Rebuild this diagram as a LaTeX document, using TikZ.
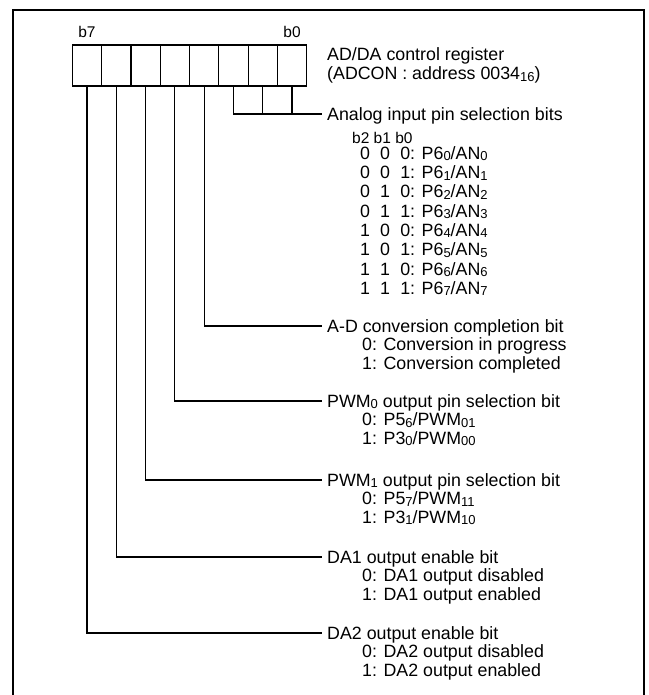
\documentclass[tikz,border=0pt]{standalone}
\usepackage{fontspec}
\setmainfont{Liberation Sans}
\usetikzlibrary{positioning}

% male cyfry indeksu dolnego (P6_0, AN_0, 0034_16)
\newcommand{\dn}[1]{\raisebox{-0.08em}{\fontsize{13}{13}\selectfont #1}}

\begin{document}
\begin{tikzpicture}[x=1pt, y=-1pt, font=\fontsize{17.8}{19}\selectfont,
    bitbox/.style={draw, line width=1.2pt, minimum width=29.3pt, minimum height=41pt, inner sep=0pt},
    lbl/.style={anchor=west, inner xsep=5pt, inner ysep=0pt, text height=12.7pt, text depth=0pt},
    sublbl/.style={anchor=west, inner sep=0pt, text height=12.7pt, text depth=0pt},
    wire/.style={line width=1.2pt}]
        % ============================================================
        % Rejestr ADCON: 8 bitow, b7 po lewej, polaczenia do opisow
        % ============================================================

        % === RAMKA (otwarta od dolu) ===
        \useasboundingbox (0,0) rectangle (648,695);
        \draw[line width=2.4pt] (13,695) -- (13,10) -- (644,10) -- (644,695);

        % === 1. KOMORKI REJESTRU ===
        \foreach \i in {0,...,7} {
            \pgfmathsetmacro{\xs}{86.95 + (7 - \i) * 29.3}
            \node[bitbox] (bit\i) at (\xs, 65.5) {};
        }
        \node[above=3pt of bit7, font=\fontsize{15.5}{16}\selectfont] (b7lbl) {b7};
        \node[above=3pt of bit0, font=\fontsize{15.5}{16}\selectfont] (b0lbl) {b0};
        \node[anchor=west, align=left, inner sep=0pt] (title) at (327, 65.5)
            {AD/DA control register\\(ADCON : address 0034\dn{16})};

        % === 2. BITY b2..b0: wybor wejscia analogowego ===
        \node[lbl] (anl) at (322, 114) {Analog input pin selection bits};
        \draw[wire] (bit2.south) |- (anl.west);
        \draw[wire] (bit1.south) -- (bit1.south |- anl.west);
        \draw[wire] (bit0.south) -- (bit0.south |- anl.west);

        \node[anchor=west, inner sep=0pt, font=\fontsize{15.5}{16}\selectfont] (bhead) at (352, 138) {b2 b1 b0};
        \foreach \r in {0,...,7} {
            \pgfmathtruncatemacro{\bA}{int(\r / 4)}
            \pgfmathtruncatemacro{\bB}{mod(int(\r / 2), 2)}
            \pgfmathtruncatemacro{\bC}{mod(\r, 2)}
            \pgfmathsetmacro{\ys}{153 + \r * 19.3}
            \node[sublbl] (row\r) at (360, \ys)
                {\bA\hspace{0.57em}\bB\hspace{0.57em}\bC: P6\dn{\r}/AN\dn{\r}};
        }

        % === 3. b3: koniec konwersji ===
        \node[lbl] (adc) at (322, 326) {A-D conversion completion bit};
        \node[sublbl] (adc0) at (362, 344.5) {0: Conversion in progress};
        \node[sublbl] (adc1) at (362, 363) {1: Conversion completed};
        \draw[wire] (bit3.south) |- (adc.west);

        % === 4. b4: PWM0 ===
        \node[lbl] (pwmA) at (322, 401) {PWM\dn{0} output pin selection bit};
        \node[sublbl] (pwmA0) at (362, 419.5) {0: P5\dn{6}/PWM\dn{01}};
        \node[sublbl] (pwmA1) at (362, 438) {1: P3\dn{0}/PWM\dn{00}};
        \draw[wire] (bit4.south) |- (pwmA.west);

        % === 5. b5: PWM1 ===
        \node[lbl] (pwmB) at (322, 480) {PWM\dn{1} output pin selection bit};
        \node[sublbl] (pwmB0) at (362, 498.5) {0: P5\dn{7}/PWM\dn{11}};
        \node[sublbl] (pwmB1) at (362, 517) {1: P3\dn{1}/PWM\dn{10}};
        \draw[wire] (bit5.south) |- (pwmB.west);

        % === 6. b6: DA1 ===
        \node[lbl] (daA) at (322, 557) {DA1 output enable bit};
        \node[sublbl] (daA0) at (362, 575.5) {0: DA1 output disabled};
        \node[sublbl] (daA1) at (362, 594) {1: DA1 output enabled};
        \draw[wire] (bit6.south) |- (daA.west);

        % === 7. b7: DA2 ===
        \node[lbl] (daB) at (322, 633) {DA2 output enable bit};
        \node[sublbl] (daB0) at (362, 651.5) {0: DA2 output disabled};
        \node[sublbl] (daB1) at (362, 670) {1: DA2 output enabled};
        \draw[wire] (bit7.south) |- (daB.west);

\end{tikzpicture}
\end{document}
